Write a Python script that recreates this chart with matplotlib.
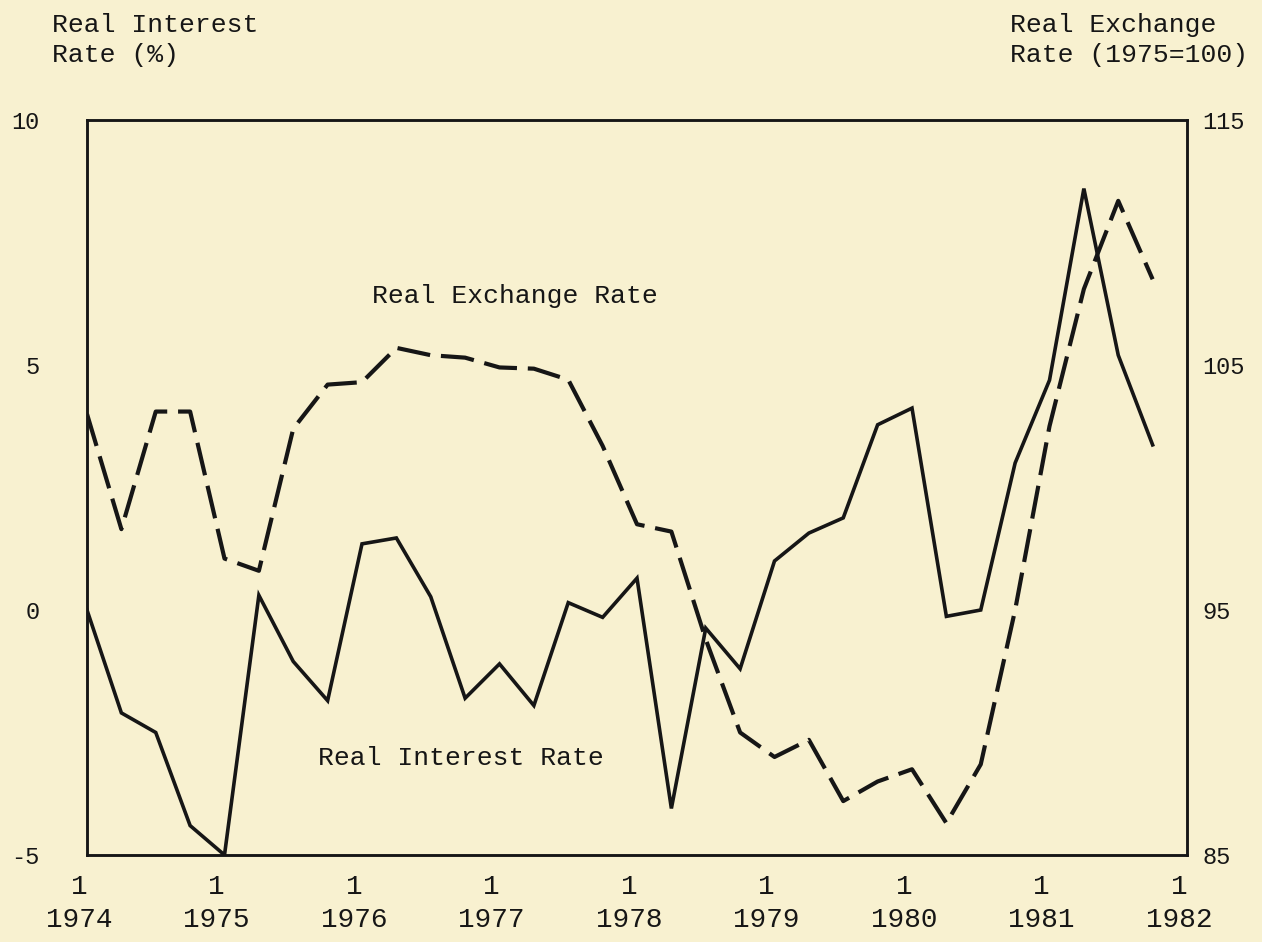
import matplotlib
matplotlib.use("Agg")
import matplotlib.pyplot as plt
import matplotlib.transforms as mtransforms
import numpy as np

# ---- data (quarterly, 1974Q1 .. 1981Q4) ----
years = [1974, 1975, 1976, 1977, 1978, 1979, 1980, 1981, 1982]
quarter_labels = ["1"] * len(years)

real_interest = [0.0, -2.1, -2.5, -4.4,
                 -5.0, 0.3, -1.05, -1.85,
                 1.35, 1.47, 0.27, -1.8,
                 -1.1, -1.95, 0.15, -0.15,
                 0.65, -4.05, -0.37, -1.2,
                 1.0, 1.57, 1.88, 3.78,
                 4.12, -0.13, 0.0, 3.0,
                 4.69, 8.6, 5.2, 3.37]

real_exchange = [103.0, 98.3, 103.1, 103.1,
                 97.1, 96.6, 102.4, 104.2,
                 104.3, 105.7, 105.4, 105.3,
                 104.9, 104.85, 104.4, 101.7,
                 98.5, 98.2, 93.8, 90.0,
                 89.0, 89.7, 87.2, 88.0,
                 88.5, 86.3, 88.7, 95.0,
                 102.5, 108.1, 111.7, 108.5]

left_ticks = [-5, 0, 5, 10]
right_ticks = [85, 95, 105, 115]

t = [1974 + i / 4 for i in range(len(real_interest))]

# ---- style ----
bg = "#f8f1d0"
ink = "#161616"
plt.rcParams["font.family"] = ["Liberation Mono", "DejaVu Sans Mono"]

W, H = 1262, 942
fig = plt.figure(figsize=(W / 100, H / 100), dpi=100, facecolor=bg)
L, R, T, B = 87, 1187, 120, 855
ax = fig.add_axes([L / W, 1 - B / H, (R - L) / W, (B - T) / H])
ax.set_facecolor(bg)
ax2 = ax.twinx()

ax.plot(t, real_interest, color=ink, lw=2.6, solid_joinstyle="miter")
ax2.plot(t, real_exchange, color=ink, lw=3.0, dashes=(8, 2.6))

ax.set_xlim(1974, 1982)
ax.set_ylim(-5, 10)
ax2.set_ylim(85, 115)

ax.set_yticks(left_ticks)
ax.set_yticklabels([str(v) for v in left_ticks], fontsize=17, color=ink)
ax2.set_yticks(right_ticks)
ax2.set_yticklabels([str(v) for v in right_ticks], fontsize=17, color=ink)
ax.set_xticks(years)
ax.set_xticklabels([f"{q}\n{y}" for q, y in zip(quarter_labels, years)],
                   fontsize=20, color=ink, linespacing=1.35)

ax.tick_params(axis="y", length=0, pad=34)
ax2.tick_params(axis="y", length=0, pad=11)
ax.tick_params(axis="x", length=0, pad=14)

off = mtransforms.ScaledTranslation(-8 / 100, 0, fig.dpi_scale_trans)
for lab in ax.get_xticklabels():
    lab.set_transform(lab.get_transform() + off)

for a in (ax, ax2):
    for s in a.spines.values():
        s.set_linewidth(1.8)
        s.set_color(ink)

# axis titles
fig.text(52 / W, 1 - 13 / H, "Real Interest\nRate (%)", ha="left", va="top",
         fontsize=19, color=ink, linespacing=1.3)
fig.text(1010 / W, 1 - 13 / H, "Real Exchange\nRate (1975=100)", ha="left", va="top",
         fontsize=19, color=ink, linespacing=1.3)

# in-plot labels
fig.text(372 / W, 1 - 296 / H, "Real Exchange Rate", ha="left", va="center",
         fontsize=19, color=ink)
fig.text(318 / W, 1 - 758 / H, "Real Interest Rate", ha="left", va="center",
         fontsize=19, color=ink)

fig.savefig("out.png", dpi=100, facecolor=bg)
